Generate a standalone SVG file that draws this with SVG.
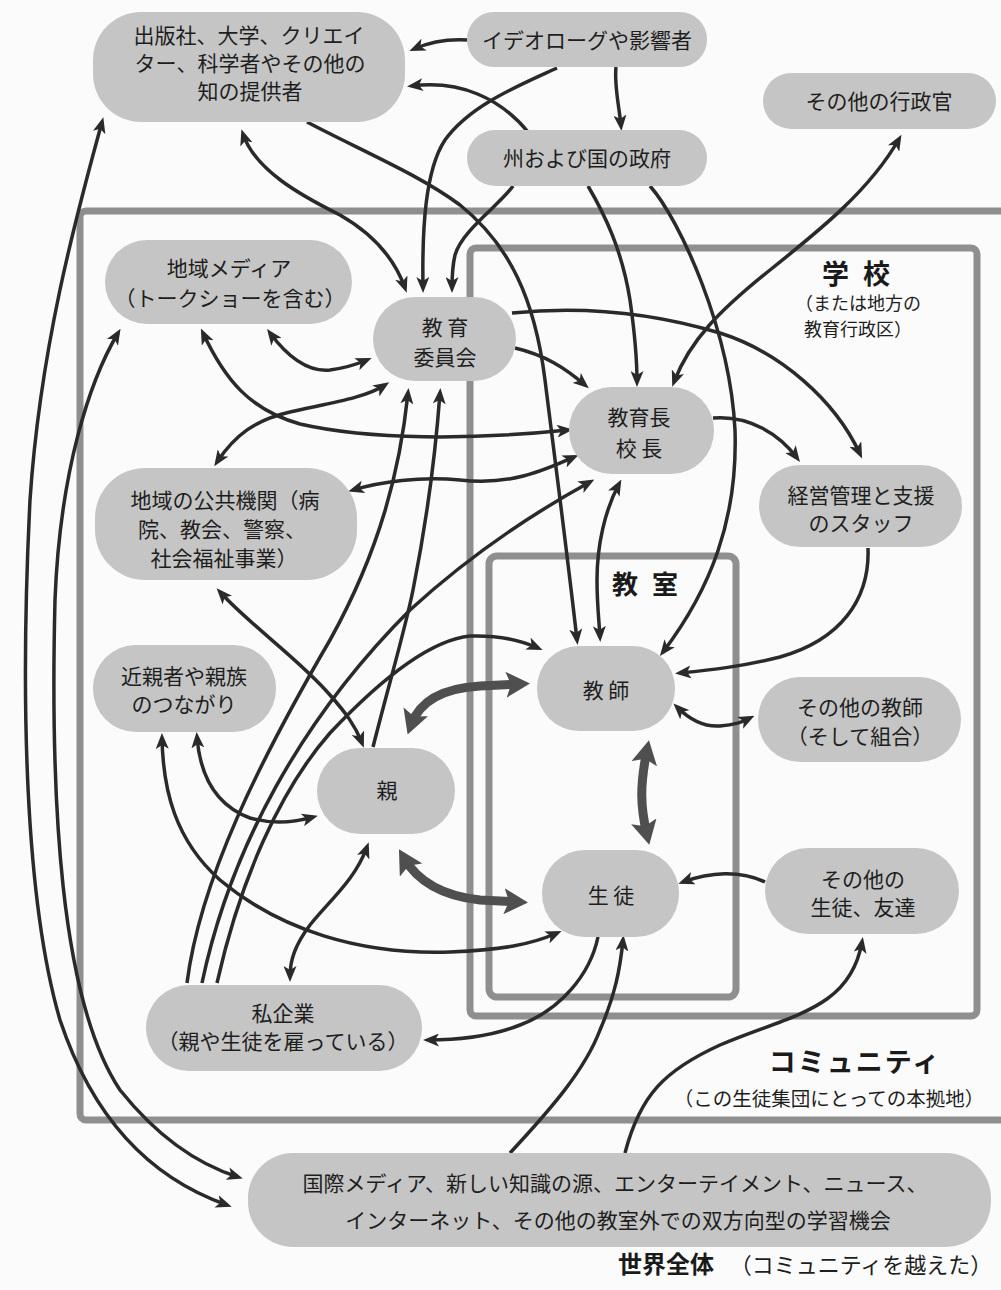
<svg xmlns="http://www.w3.org/2000/svg" width="1001" height="1290" viewBox="0 0 1001 1290">
  <defs>
    <style>
      .node rect { fill: #c5c5c5; stroke: none; }
      .node text, .lbl { font-family: "Noto Sans CJK JP", "Noto Sans", sans-serif; font-size: 21px; fill: #1e1e1e; text-anchor: middle; }
      .frame { fill: none; stroke: #8f8f8f; stroke-width: 7; }
      .head { font-family: "Noto Sans CJK JP", "Noto Sans", sans-serif; font-weight: bold; fill: #1a1a1a; text-anchor: middle; }
      .sub { font-family: "Noto Sans CJK JP", "Noto Sans", sans-serif; font-size: 18px; fill: #1e1e1e; text-anchor: middle; }
      .c { fill: none; stroke: #2a2a2a; stroke-width: 3.5; marker-end: url(#ah); }
      .c2 { marker-start: url(#ah); }
      .t { fill: none; stroke: #4f4f4f; stroke-width: 9; marker-start: url(#ahT); marker-end: url(#ahT); }
    </style>
    <marker id="ah" viewBox="0 0 16 13" refX="11" refY="6.5" markerWidth="16" markerHeight="13" markerUnits="userSpaceOnUse" orient="auto-start-reverse">
      <path d="M0,0 L16,6.5 L0,13 L4,6.5 z" fill="#2a2a2a"/>
    </marker>
    <marker id="ahT" viewBox="0 0 24 26" refX="14" refY="13" markerWidth="24" markerHeight="26" markerUnits="userSpaceOnUse" orient="auto-start-reverse">
      <path d="M0,0 L24,13 L0,26 L5,13 z" fill="#4f4f4f"/>
    </marker>
  </defs>

  <rect width="1001" height="1290" fill="#fbfbfb"/>

  <!-- nested frames: community, school, classroom -->
  <g id="frames">
    <rect class="frame" x="80" y="211" width="990" height="909" rx="6"/>
    <rect class="frame" x="470" y="248" width="507" height="768" rx="6"/>
    <rect class="frame" x="489" y="556" width="247" height="441" rx="8"/>
  </g>

  <g id="frame-labels">
    <text class="head" x="858" y="284" font-size="27" letter-spacing="4">学 校</text>
    <text class="sub" x="858" y="310">（または地方の</text>
    <text class="sub" x="858" y="336">教育行政区）</text>
    <text class="head" x="647" y="594" font-size="26" letter-spacing="4">教 室</text>
    <text class="head" x="855" y="1072" font-size="27" letter-spacing="2">コミュニティ</text>
    <text class="sub" x="829" y="1106" style="font-size:19.5px">（この生徒集団にとっての本拠地）</text>
    <text class="head" x="666" y="1273" font-size="24">世界全体</text>
    <text class="sub" x="861" y="1273" style="font-size:22px">（コミュニティを越えた）</text>
  </g>

  <!-- connectors -->
  <g id="connectors">
    <path class="c" d="M467,40 C450,39 430,42 414,49"/>
    <path class="c" d="M616,67 C614,85 619,105 621,126"/>
    <path class="c" d="M528,132 C500,98 460,80 412,86"/>
    <path class="c" d="M557,68 C520,85 470,105 445,140 C425,170 422,230 423,288"/>
    <path class="c" d="M513,186 C500,205 462,230 455,255 C452,268 452,278 452,288"/>
    <path class="c" d="M588,186 C605,215 622,250 630,300 C635,335 637,360 637,382"/>
    <path class="c" d="M650,186 C680,220 730,330 735,430 C738,520 710,590 663,652"/>
    <path class="c c2" d="M899,139 C870,190 820,230 770,270 C720,310 690,340 674,382"/>
    <path class="c c2" d="M243,134 C255,170 300,195 340,215 C375,235 395,260 405,288"/>
    <path class="c" d="M307,122 C360,150 420,175 460,205 C510,245 535,300 545,380 C555,460 568,560 577,640"/>
    <path class="c c2" d="M619,484 C605,510 597,545 597,580 C597,605 599,620 600,637"/>
    <path class="c" d="M512,313 C590,305 660,315 720,333 C780,352 835,400 860,454"/>
    <path class="c" d="M515,348 C545,355 565,368 585,385"/>
    <path class="c" d="M713,418 C750,415 780,435 797,458"/>
    <path class="c c2" d="M203,333 C225,380 250,410 300,424 C370,440 470,440 568,430"/>
    <path class="c c2" d="M353,490 C380,482 420,476 460,480 C510,486 545,470 574,457"/>
    <path class="c" d="M187,983 C200,880 260,760 330,640 C380,550 400,470 408,393"/>
    <path class="c" d="M373,747 C390,680 405,630 413,590 C425,530 435,460 440,393"/>
    <path class="c" d="M202,983 C230,850 300,720 410,610 C470,555 530,515 590,482"/>
    <path class="c" d="M217,983 C240,880 280,790 330,733 C380,680 430,640 470,636 C500,635 520,640 538,648"/>
    <path class="c c2" d="M270,333 C290,360 310,372 330,370 C345,368 355,365 367,360"/>
    <path class="c c2" d="M217,462 C235,435 255,420 290,412 C330,403 365,398 385,385"/>
    <path class="c c2" d="M220,592 C250,625 300,660 330,695 C345,712 355,725 362,743"/>
    <path class="c c2" d="M197,737 C200,775 215,805 250,818 C275,825 295,822 313,817"/>
    <path class="c c2" d="M162,738 C163,790 175,840 220,880 C280,930 360,955 450,952 C500,950 530,945 557,933"/>
    <path class="c c2" d="M367,847 C355,880 330,900 310,925 C295,945 290,960 290,977"/>
    <path class="c" d="M868,548 C870,600 840,640 780,657 C740,667 710,670 680,673"/>
    <path class="c c2" d="M677,707 C690,720 705,727 720,726 C735,725 742,722 750,718"/>
    <path class="c" d="M765,882 C740,870 710,872 683,882"/>
    <path class="c" d="M598,937 C590,975 560,1010 520,1025 C490,1037 460,1040 428,1040"/>
    <path class="c" d="M510,1153 C550,1110 585,1070 600,1030 C615,995 620,970 623,940"/>
    <path class="c" d="M625,1153 C640,1095 665,1070 720,1045 C790,1015 850,1010 862,942"/>
    <path class="c c2" d="M102,122 C75,220 40,350 30,500 C20,700 25,900 60,1020 C100,1140 170,1185 227,1205"/>
    <path class="c c2" d="M118,333 C90,380 60,470 55,600 C50,800 60,1000 120,1090 C160,1140 200,1165 238,1177"/>
    <path class="t" d="M411,725 C420,700 445,688 480,686 L520,684"/>
    <path class="t" d="M404,858 C418,882 442,896 480,900 L518,902"/>
    <path class="t" d="M647,750 C640,785 640,805 647,835"/>
  </g>

  <!-- nodes -->
  <g id="n-publishers" class="node">
    <rect x="93" y="12" width="312" height="110" rx="48"/>
    <text x="249" y="43">出版社、大学、クリエイ</text>
    <text x="250" y="71">ター、科学者やその他の</text>
    <text x="250" y="99">知の提供者</text>
  </g>
  <g id="n-ideologues" class="node">
    <rect x="467" y="12" width="240" height="55" rx="27"/>
    <text x="587" y="48">イデオローグや影響者</text>
  </g>
  <g id="n-government" class="node">
    <rect x="467" y="130" width="240" height="56" rx="28"/>
    <text x="587" y="166">州および国の政府</text>
  </g>
  <g id="n-admins" class="node">
    <rect x="763" y="73" width="233" height="56" rx="28"/>
    <text x="879" y="109">その他の行政官</text>
  </g>
  <g id="n-local-media" class="node">
    <rect x="105" y="240" width="247" height="84" rx="42"/>
    <text x="229" y="276">地域メディア</text>
    <text x="230" y="306">（トークショーを含む）</text>
  </g>
  <g id="n-board" class="node">
    <rect x="373" y="297" width="143" height="84" rx="42"/>
    <text x="445" y="335">教 育</text>
    <text x="445" y="365">委員会</text>
  </g>
  <g id="n-superintendent" class="node">
    <rect x="569" y="387" width="145" height="87" rx="43"/>
    <text x="639" y="425">教育長</text>
    <text x="639" y="456">校 長</text>
  </g>
  <g id="n-staff" class="node">
    <rect x="759" y="465" width="203" height="82" rx="41"/>
    <text x="861" y="503">経営管理と支援</text>
    <text x="861" y="531">のスタッフ</text>
  </g>
  <g id="n-public" class="node">
    <rect x="95" y="468" width="262" height="112" rx="50"/>
    <text x="225" y="508">地域の公共機関（病</text>
    <text x="222" y="537">院、教会、警察、</text>
    <text x="224" y="566">社会福祉事業）</text>
  </g>
  <g id="n-kin" class="node">
    <rect x="93" y="645" width="183" height="87" rx="43"/>
    <text x="184" y="684">近親者や親族</text>
    <text x="184" y="712">のつながり</text>
  </g>
  <g id="n-parents" class="node">
    <rect x="317" y="748" width="138" height="86" rx="43"/>
    <text x="387" y="798">親</text>
  </g>
  <g id="n-teachers" class="node">
    <rect x="537" y="646" width="138" height="85" rx="42"/>
    <text x="606" y="698">教 師</text>
  </g>
  <g id="n-other-teachers" class="node">
    <rect x="758" y="677" width="203" height="85" rx="42"/>
    <text x="860" y="715">その他の教師</text>
    <text x="860" y="744">（そして組合）</text>
  </g>
  <g id="n-students" class="node">
    <rect x="542" y="850" width="137" height="87" rx="43"/>
    <text x="611" y="903">生 徒</text>
  </g>
  <g id="n-other-students" class="node">
    <rect x="765" y="848" width="194" height="86" rx="43"/>
    <text x="863" y="887">その他の</text>
    <text x="863" y="915">生徒、友達</text>
  </g>
  <g id="n-business" class="node">
    <rect x="146" y="985" width="276" height="86" rx="43"/>
    <text x="283" y="1021">私企業</text>
    <text x="283" y="1049">（親や生徒を雇っている）</text>
  </g>
  <g id="n-world" class="node">
    <rect x="248" y="1153" width="743" height="94" rx="45"/>
    <text x="615" y="1191">国際メディア、新しい知識の源、エンターテイメント、ニュース、</text>
    <text x="618" y="1228">インターネット、その他の教室外での双方向型の学習機会</text>
  </g>
</svg>
